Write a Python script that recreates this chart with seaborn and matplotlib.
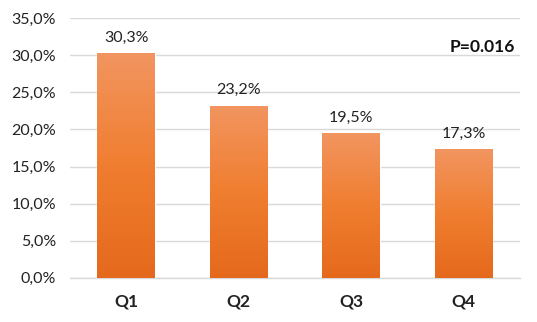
import matplotlib
matplotlib.use("Agg")
import matplotlib.pyplot as plt
import seaborn as sns
import numpy as np
import pandas as pd
from matplotlib.colors import LinearSegmentedColormap

categories = ["Q1", "Q2", "Q3", "Q4"]
values = [30.3, 23.2, 19.5, 17.3]
value_labels = ["30,3%", "23,2%", "19,5%", "17,3%"]
yticks = [0, 5, 10, 15, 20, 25, 30, 35]
ytick_labels = ["0,0%", "5,0%", "10,0%", "15,0%", "20,0%", "25,0%", "30,0%", "35,0%"]
p_text = "P=0.016"

sns.set_theme(style="white")
plt.rcParams['font.family'] = ['Lato', 'DejaVu Sans']

df = pd.DataFrame({"cat": categories, "val": values})

fig = plt.figure(figsize=(5.37, 3.22), dpi=100)
ax = fig.add_axes([0.130, 0.137, 0.838, 0.807])
sns.barplot(data=df, x="cat", y="val", color="#F07F32", width=0.51, ax=ax,
            saturation=1, zorder=3)

ax.set_ylim(0, 35)
ax.set_xlim(-0.5, 3.5)
ax.set_yticks(yticks)
ax.set_yticklabels(ytick_labels, fontsize=11.5, color="#222222")
ax.yaxis.grid(True, color="#D9D9D9", linewidth=1, zorder=0)
ax.set_axisbelow(True)
for s in ["top", "right", "left"]:
    ax.spines[s].set_visible(False)
ax.spines["bottom"].set_color("#D9D9D9")
ax.spines["bottom"].set_linewidth(1)
ax.tick_params(axis="both", length=0)
ax.set_xlabel("")
ax.set_ylabel("")
for lbl in ax.get_xticklabels():
    lbl.set_fontweight("bold")
    lbl.set_fontsize(12.5)
    lbl.set_color("#222222")
ax.tick_params(axis="x", pad=11)
ax.tick_params(axis="y", pad=10)

cmap = LinearSegmentedColormap.from_list("g", ["#E5691C", "#F07E30", "#F29560"])
grad = np.linspace(0, 1, 256).reshape(-1, 1)
for patch in ax.patches:
    x0, y0 = patch.get_x(), patch.get_y()
    w, h = patch.get_width(), patch.get_height()
    im = ax.imshow(grad, cmap=cmap, aspect="auto", origin="lower",
                   extent=[x0, x0 + w, y0, y0 + h], zorder=4)
    im.set_clip_path(patch)

for i, (v, t) in enumerate(zip(values, value_labels)):
    ax.annotate(t, (i, v), xytext=(0, 6), textcoords="offset points",
                ha="center", va="bottom", fontsize=11.5, color="#222222")

ax.text(0.99, 0.89, p_text, transform=ax.transAxes, ha="right", va="center",
        fontsize=12.5, fontweight="bold", color="#111111")
ax.set_xlim(-0.5, 3.5)
ax.set_ylim(0, 35)

fig.savefig("out.png", dpi=100)
